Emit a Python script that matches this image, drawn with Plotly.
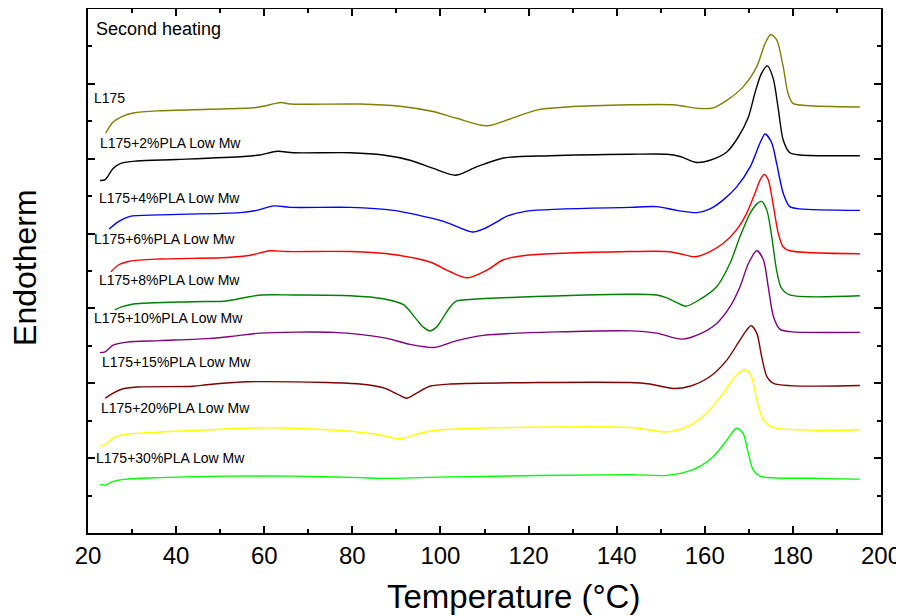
import plotly.graph_objects as go

# ---- data ----
labels = ["L175", "L175+2%PLA Low Mw", "L175+4%PLA Low Mw", "L175+6%PLA Low Mw",
          "L175+8%PLA Low Mw", "L175+10%PLA Low Mw", "L175+15%PLA Low Mw",
          "L175+20%PLA Low Mw", "L175+30%PLA Low Mw"]

t_0 = [24.0, 25.7, 27.6, 30.3, 36.3, 47.7, 57.5, 59.7, 63.8, 65.9, 81.7, 90.8, 98.3, 103.7, 110.5,
       115.8, 121.8, 128.7, 143.0, 152.8, 159.0, 161.9, 165.0, 168.7, 171.8, 173.7, 175.0, 176.3,
       177.8, 178.9, 180.0, 183.1, 195.2]
hf_0 = [5.34, 5.49, 5.56, 5.61, 5.64, 5.66, 5.68, 5.70, 5.75, 5.73, 5.73, 5.70, 5.63, 5.54, 5.44,
        5.53, 5.65, 5.69, 5.72, 5.72, 5.67, 5.68, 5.78, 5.96, 6.23, 6.54, 6.66, 6.59,
        6.23, 5.87, 5.74, 5.71, 5.69]

t_1 = [22.7, 23.9, 25.7, 27.6, 31.1, 40.1, 55.3, 59.0, 63.0, 66.6, 79.5, 87.0, 93.1, 98.4, 103.5,
       108.2, 114.3, 124.9, 143.0, 151.4, 154.4, 158.2, 161.2, 165.0, 167.5, 169.8, 171.4, 172.8,
       174.2, 175.5, 176.7, 177.8, 179.3, 181.6, 195.2]
hf_1 = [4.71, 4.72, 4.87, 4.94, 4.97, 4.99, 5.03, 5.05, 5.10, 5.08, 5.08, 5.05, 4.98, 4.87, 4.78,
        4.89, 5.01, 5.04, 5.06, 5.06, 5.03, 4.95, 4.98, 5.09, 5.28, 5.54, 5.88, 6.13,
        6.24, 6.08, 5.66, 5.25, 5.08, 5.05, 5.04]

t_2 = [24.8, 26.9, 29.5, 36.3, 54.5, 58.3, 62.2, 65.9, 79.5, 89.3, 96.9, 100.3, 102.2, 107.3, 109.7,
       113.5, 115.0, 119.6, 143.0, 149.1, 153.6, 158.2, 161.2, 164.2, 167.2, 170.3, 172.6, 173.7,
       175.2, 176.3, 177.8, 179.3, 181.6, 195.2]
hf_2 = [4.06, 4.16, 4.23, 4.25, 4.28, 4.31, 4.37, 4.35, 4.35, 4.31, 4.22, 4.17, 4.13, 4.02, 4.06,
        4.18, 4.23, 4.30, 4.35, 4.36, 4.31, 4.28, 4.33, 4.45, 4.62, 4.89, 5.22, 5.33,
        5.21, 4.94, 4.54, 4.36, 4.33, 4.31]

t_3 = [25.2, 26.9, 29.5, 36.3, 51.5, 56.8, 61.3, 65.1, 79.5, 89.3, 97.6, 102.2, 106.1, 110.5, 114.3,
       119.6, 143.0, 151.4, 154.4, 157.8, 161.2, 164.2, 167.2, 169.5, 171.4, 172.6, 173.5, 174.4,
       175.6, 176.7, 177.8, 179.3, 195.2]
hf_3 = [3.49, 3.58, 3.63, 3.66, 3.68, 3.71, 3.77, 3.76, 3.76, 3.72, 3.62, 3.49, 3.41, 3.51, 3.65,
        3.71, 3.76, 3.76, 3.73, 3.69, 3.76, 3.87, 4.05, 4.27, 4.54, 4.72, 4.79, 4.72,
        4.36, 4.00, 3.82, 3.77, 3.73]

t_4 = [26.1, 27.6, 30.3, 43.9, 51.5, 56.0, 59.4, 66.6, 79.5, 87.0, 91.6, 94.6, 96.1, 97.6, 99.1,
       100.3, 102.2, 103.7, 106.7, 117.3, 143.0, 149.1, 151.4, 153.6, 155.7, 158.9, 162.7, 165.7,
       168.0, 170.3, 171.9, 172.9, 174.1, 175.2, 176.3, 177.4, 179.3, 195.2]
hf_4 = [2.98, 3.02, 3.06, 3.09, 3.10, 3.15, 3.18, 3.18, 3.17, 3.13, 3.05, 2.85, 2.75, 2.70, 2.75,
        2.85, 3.02, 3.10, 3.12, 3.15, 3.19, 3.18, 3.14, 3.08, 3.03, 3.12, 3.29, 3.60,
        3.96, 4.27, 4.40, 4.43, 4.31, 3.96, 3.51, 3.27, 3.18, 3.17]

t_5 = [22.7, 23.9, 25.7, 28.8, 36.3, 47.7, 53.0, 59.0, 75.7, 87.0, 93.1, 98.8, 103.7, 109.7, 143.0,
       149.1, 154.8, 158.9, 162.7, 165.7, 168.0, 169.9, 171.8, 173.3, 174.4, 175.6, 177.1, 179.3,
       195.2]
hf_5 = [2.41, 2.42, 2.51, 2.55, 2.57, 2.60, 2.63, 2.67, 2.68, 2.61, 2.52, 2.48, 2.57, 2.64, 2.70,
        2.67, 2.59, 2.66, 2.80, 3.02, 3.29, 3.60, 3.77, 3.65, 3.29, 2.89, 2.72, 2.69,
        2.68]

t_6 = [23.9, 25.4, 27.6, 31.1, 43.9, 46.9, 53.0, 56.0, 74.2, 81.7, 87.0, 90.1, 92.3, 94.6, 97.6,
       102.2, 143.0, 147.5, 152.9, 156.6, 161.2, 165.0, 168.0, 169.5, 170.5, 171.8, 172.9, 174.1,
       175.6, 195.2]
hf_6 = [1.80, 1.86, 1.92, 1.95, 1.96, 1.98, 2.01, 2.02, 2.01, 1.99, 1.94, 1.86, 1.80, 1.87, 1.96,
        1.99, 2.01, 1.99, 1.93, 1.96, 2.09, 2.31, 2.58, 2.71, 2.77, 2.67, 2.36, 2.09,
        2.00, 1.97]

t_7 = [22.7, 23.9, 25.7, 28.8, 36.3, 47.7, 55.3, 66.6, 79.5, 85.5, 90.8, 94.6, 98.4, 143.0, 151.4,
       155.9, 160.4, 164.2, 167.2, 169.3, 170.6, 171.8, 173.3, 175.6, 195.2]
hf_7 = [1.16, 1.18, 1.27, 1.32, 1.35, 1.38, 1.40, 1.40, 1.36, 1.32, 1.26, 1.32, 1.37, 1.41, 1.35,
        1.42, 1.60, 1.87, 2.11, 2.18, 2.09, 1.78, 1.51, 1.41, 1.38]

t_8 = [22.7, 23.9, 25.7, 28.8, 36.3, 51.5, 66.6, 81.7, 87.0, 102.2, 143.0, 151.4, 157.4, 161.9,
       165.0, 167.2, 168.7, 169.9, 171.0, 172.5, 186.2, 195.2]
hf_8 = [0.65, 0.64, 0.69, 0.72, 0.74, 0.76, 0.76, 0.74, 0.73, 0.75, 0.78, 0.77, 0.85, 1.02,
        1.24, 1.40, 1.33, 1.06, 0.84, 0.76, 0.73, 0.72]

temps = [t_0, t_1, t_2, t_3, t_4, t_5, t_6, t_7, t_8]
flows = [hf_0, hf_1, hf_2, hf_3, hf_4, hf_5, hf_6, hf_7, hf_8]

x_ticks = [20, 40, 60, 80, 100, 120, 140, 160, 180, 200]
x_title = "Temperature (°C)"
y_title = "Endotherm"
panel_title = "Second heating"

# ---- styling ----
colors = ["#808000", "#000000", "#0000FF", "#FF0000", "#008000", "#800080", "#800000",
          "#FFFF00", "#00FF00"]
label_pos = [(0.005, 0.831), (0.013, 0.744), (0.011, 0.639), (0.005, 0.561), (0.011, 0.483),
             (0.005, 0.410), (0.015, 0.326), (0.014, 0.238), (0.007, 0.143)]
FONT = "Liberation Sans, Arial, sans-serif"

fig = go.Figure()
for name, t, hf, c in zip(labels, temps, flows, colors):
    fig.add_trace(go.Scatter(x=t, y=hf, mode="lines", name=name,
                             line=dict(color=c, width=1.4, shape="spline", smoothing=0.8),
                             showlegend=False))

annotations = []
for name, (px, py) in zip(labels, label_pos):
    annotations.append(dict(text=name, x=px, y=py, xref="paper", yref="paper",
                            xanchor="left", yanchor="middle", showarrow=False,
                            font=dict(size=14, color="black", family=FONT)))
annotations.append(dict(text=panel_title, x=0.007, y=0.961, xref="paper", yref="paper",
                        xanchor="left", yanchor="middle", showarrow=False,
                        font=dict(size=18, color="black", family=FONT)))
annotations.append(dict(text=x_title, x=0.536, y=-0.121, xref="paper", yref="paper",
                        xanchor="center", yanchor="middle", showarrow=False,
                        font=dict(size=33, color="black", family=FONT)))
annotations.append(dict(text=y_title, x=-0.0794, y=0.506, xref="paper", yref="paper",
                        xanchor="center", yanchor="middle", showarrow=False, textangle=-90,
                        font=dict(size=32, color="black", family=FONT)))

# page body adds an 8px margin, so the figure is sized 8px smaller than the window
fig.update_layout(
    width=896, height=608,
    margin=dict(l=80, r=23, t=1, b=83, autoexpand=False),
    plot_bgcolor="white", paper_bgcolor="white",
    font=dict(family=FONT, color="black"),
    annotations=annotations,
)
fig.update_xaxes(
    range=[20, 200], tickvals=x_ticks, ticks="inside", ticklen=7, tickwidth=1.5,
    tickcolor="black", showline=True, linecolor="black", linewidth=2, mirror="allticks",
    showgrid=False, zeroline=False, tickfont=dict(size=24, family=FONT), automargin=False,
    minor=dict(dtick=10, ticks="inside", ticklen=4, tickwidth=1.5, tickcolor="black", showgrid=False),
)
fig.update_yaxes(
    range=[0, 7], dtick=1, ticks="inside", ticklen=7, tickwidth=1.5, tickcolor="black",
    showline=True, linecolor="black", linewidth=2, mirror="allticks", showgrid=False,
    zeroline=False, showticklabels=False, automargin=False,
    minor=dict(dtick=0.5, ticks="inside", ticklen=4, tickwidth=1.5, tickcolor="black", showgrid=False),
)

fig.write_html("out.html")
